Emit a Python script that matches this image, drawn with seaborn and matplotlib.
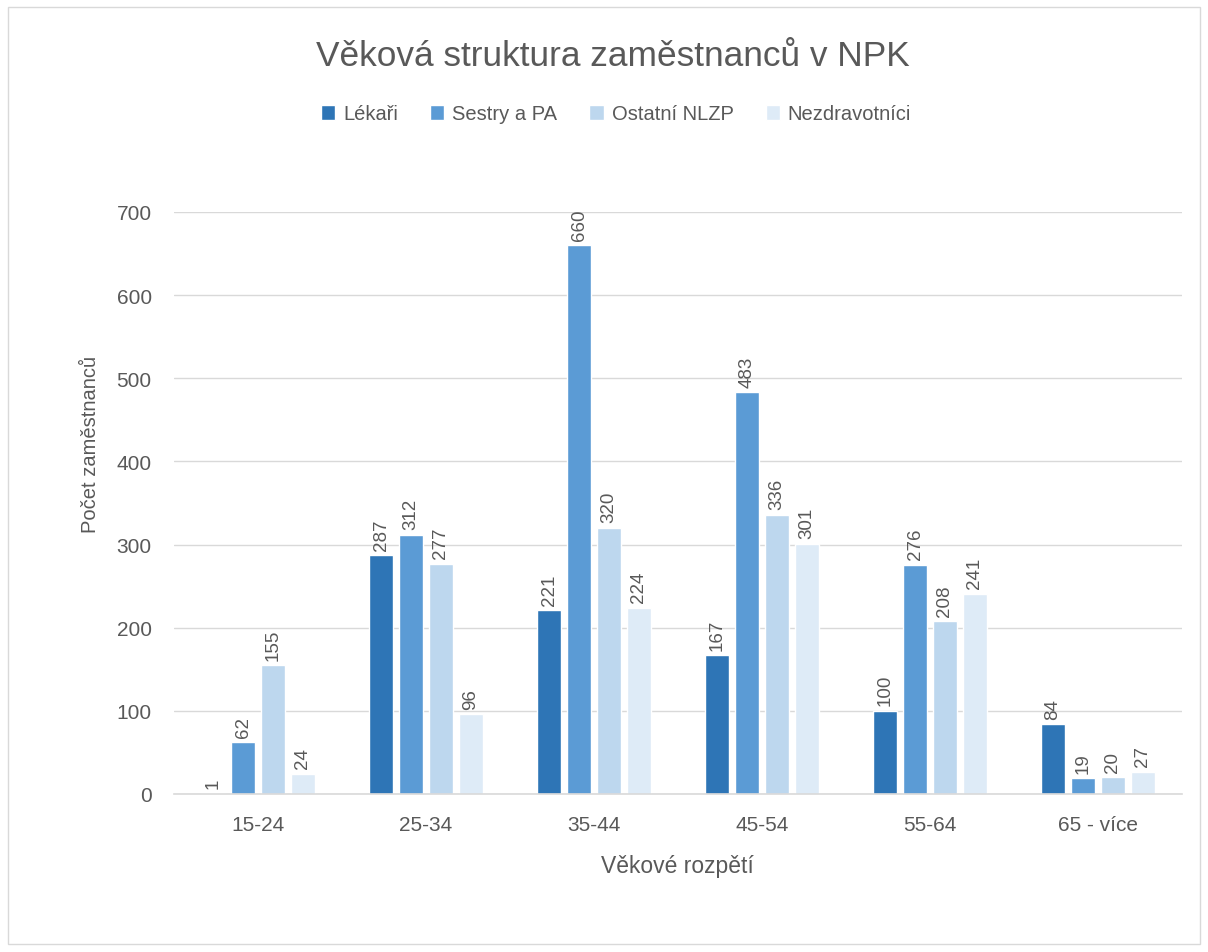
import pandas as pd
import seaborn as sns
import matplotlib.pyplot as plt
from matplotlib.patches import Rectangle

categories = ["15-24", "25-34", "35-44", "45-54", "55-64", "65 - více"]
series_names = ["Lékaři", "Sestry a PA", "Ostatní NLZP", "Nezdravotníci"]
lekari = [1, 287, 221, 167, 100, 84]
sestry = [62, 312, 660, 483, 276, 19]
ostatni = [155, 277, 320, 336, 208, 20]
nezdrav = [24, 96, 224, 301, 241, 27]
colors = ["#2E75B6", "#5B9BD5", "#BDD7EE", "#DEEBF7"]

rows = []
for name, vals in zip(series_names, [lekari, sestry, ostatni, nezdrav]):
    for cat, v in zip(categories, vals):
        rows.append({"Věkové rozpětí": cat, "skupina": name, "počet": v})
df = pd.DataFrame(rows)

sns.set_style("white")
plt.rcParams["font.family"] = ["Liberation Sans", "DejaVu Sans"]
txt = "#595959"

fig = plt.figure(figsize=(12.08, 9.53), dpi=100)
ax = fig.add_axes([174 / 1208, 1 - 795 / 953, 1008 / 1208, (795 - 213) / 953])

sns.barplot(data=df, x="Věkové rozpětí", y="počet", hue="skupina",
            order=categories, hue_order=series_names, palette=colors,
            width=0.714, gap=0.2, saturation=1, ax=ax, legend=True)

for cont in ax.containers:
    ax.bar_label(cont, labels=[f"{int(v)}" for v in cont.datavalues],
                 rotation=90, padding=4, fontsize=13.5, color=txt)

ax.set_ylim(0, 700)
ax.set_xlim(-0.5, 5.5)
ax.set_yticks(range(0, 701, 100))
ax.yaxis.grid(True, color="#D9D9D9", linewidth=1)
ax.set_axisbelow(True)
for s in ["top", "right", "left"]:
    ax.spines[s].set_visible(False)
ax.spines["bottom"].set_color("#D9D9D9")
ax.spines["bottom"].set_linewidth(1.2)
ax.tick_params(axis="both", length=0, labelsize=15, colors=txt)
ax.tick_params(axis="x", pad=15)
ax.tick_params(axis="y", pad=16)
ax.set_xlabel("Věkové rozpětí", fontsize=16.5, color=txt)
ax.set_ylabel("Počet zaměstnanců", fontsize=14.5, color=txt)
ax.xaxis.set_label_coords(0.499, -0.103)
ax.yaxis.set_label_coords(-0.073, 0.603)

handles, labels = ax.get_legend_handles_labels()
ax.get_legend().remove()
fig.legend(handles, labels, loc="center", bbox_to_anchor=(616 / 1208, 1 - 115 / 953),
           ncol=4, frameon=False, fontsize=14.5, handlelength=0.7, handleheight=0.7,
           handletextpad=0.4, columnspacing=1.6, labelcolor=txt)

fig.text(613 / 1208, 1 - 56 / 953, "Věková struktura zaměstnanců v NPK",
         ha="center", va="center", fontsize=25.4, color=txt)

fig.patches.append(Rectangle((8 / 1208, 8 / 953), 1192 / 1208, 937 / 953,
                             transform=fig.transFigure, fill=False,
                             edgecolor="#D9D9D9", linewidth=1))

fig.savefig("out.png", dpi=100, facecolor="white")
